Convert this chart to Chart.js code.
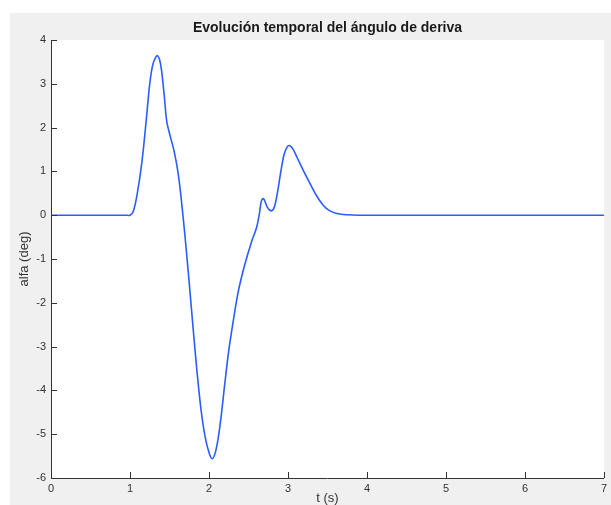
<!DOCTYPE html>
<html>
<head>
<meta charset="utf-8">
<script src="https://cdn.jsdelivr.net/npm/chart.js@4/dist/chart.umd.min.js"></script>
<style>
  html, body { margin: 0; padding: 0; background: #ffffff; }
  #wrap { position: relative; width: 611px; height: 505px; }
</style>
</head>
<body>
<div id="wrap"><canvas id="c" width="611" height="505"></canvas></div>
<script>
// Sideslip angle response over time
const tiempo = [0, 0.5, 0.95, 1.0, 1.04, 1.085, 1.15, 1.21, 1.25, 1.29, 1.33, 1.35, 1.375, 1.40, 1.435, 1.465,
  1.51, 1.56, 1.61, 1.65, 1.70, 1.75, 1.80, 1.85, 1.90, 1.95, 2.00, 2.04, 2.08, 2.12, 2.16, 2.20,
  2.25, 2.30, 2.37, 2.45, 2.54, 2.60, 2.635, 2.66, 2.68, 2.70, 2.74, 2.79, 2.83, 2.87, 2.91, 2.95,
  2.99, 3.02, 3.06, 3.12, 3.20, 3.28, 3.36, 3.44, 3.52, 3.62, 3.75, 3.90, 4.5, 7.0];
const alfa = [0, 0, 0, 0, 0.08, 0.42, 1.2, 2.25, 3.0, 3.45, 3.62, 3.64, 3.55, 3.3, 2.7, 2.15,
  1.8, 1.45, 0.95, 0.35, -0.55, -1.55, -2.6, -3.6, -4.45, -5.05, -5.42, -5.56, -5.42, -5.05, -4.5, -3.85,
  -3.1, -2.5, -1.75, -1.15, -0.6, -0.3, 0.0, 0.3, 0.38, 0.35, 0.18, 0.10, 0.2, 0.55, 1.0, 1.38,
  1.56, 1.59, 1.52, 1.3, 1.0, 0.72, 0.45, 0.24, 0.11, 0.04, 0.01, 0, 0, 0];
const xTicks = [0, 1, 2, 3, 4, 5, 6, 7];
const yTicks = [-6, -5, -4, -3, -2, -1, 0, 1, 2, 3, 4];

const puntos = tiempo.map((t, i) => ({ x: t, y: alfa[i] }));

const FONT = '"Liberation Sans", Arial, Helvetica, sans-serif';
const AXIS_COLOR = '#333333';

// Figure background and white axes box
const fondo = {
  id: 'fondo',
  beforeDraw(chart) {
    const { ctx, chartArea: a } = chart;
    ctx.save();
    ctx.fillStyle = '#f0f0f0';
    ctx.fillRect(10, 13, chart.width - 10, chart.height - 13);
    ctx.fillStyle = '#ffffff';
    ctx.fillRect(a.left, a.top, a.right - a.left, a.bottom - a.top);
    ctx.restore();
  }
};

// Tick marks pointing into the axes box
const marcas = {
  id: 'marcas',
  afterDraw(chart) {
    const { ctx, chartArea: a, scales } = chart;
    const len = 6;
    ctx.save();
    ctx.strokeStyle = AXIS_COLOR;
    ctx.lineWidth = 1;
    ctx.beginPath();
    xTicks.forEach(v => {
      const px = Math.round(scales.x.getPixelForValue(v)) + 0.5;
      ctx.moveTo(px, a.bottom);
      ctx.lineTo(px, a.bottom - len);
    });
    yTicks.forEach(v => {
      const py = Math.round(scales.y.getPixelForValue(v)) + 0.5;
      ctx.moveTo(a.left, py);
      ctx.lineTo(a.left + len, py);
    });
    ctx.stroke();
    ctx.restore();
  }
};

new Chart(document.getElementById('c'), {
  type: 'line',
  data: {
    datasets: [{
      data: puntos,
      borderColor: '#2b5cff',
      borderWidth: 1.6,
      pointRadius: 0,
      fill: false,
      tension: 0.35,
      cubicInterpolationMode: 'default'
    }]
  },
  options: {
    responsive: false,
    animation: false,
    clip: false,
    layout: { padding: { left: 10, right: 7, top: 13, bottom: 0 } },
    plugins: {
      legend: { display: false },
      tooltip: { enabled: false },
      title: {
        display: true,
        text: 'Evolución temporal del ángulo de deriva',
        color: '#1a1a1a',
        font: { family: FONT, size: 14, weight: 'bold', lineHeight: 1.2 },
        padding: { top: 7, bottom: 3.2 },
        fullSize: false
      }
    },
    scales: {
      x: {
        type: 'linear',
        min: 0, max: 7,
        afterBuildTicks(s) { s.ticks = xTicks.map(v => ({ value: v })); },
        afterFit(s) { s.height = 27; },
        grid: { display: false, drawTicks: false },
        border: { display: true, color: AXIS_COLOR, width: 1 },
        ticks: { color: AXIS_COLOR, font: { family: FONT, size: 11 }, padding: 4, maxRotation: 0 },
        title: { display: true, text: 't (s)', color: AXIS_COLOR,
                 font: { family: FONT, size: 13 }, padding: { top: 0, bottom: -1 } }
      },
      y: {
        type: 'linear',
        min: -6, max: 4,
        afterBuildTicks(s) { s.ticks = yTicks.map(v => ({ value: v })); },
        afterFit(s) { s.width = 41; },
        grid: { display: false, drawTicks: false },
        border: { display: true, color: AXIS_COLOR, width: 1 },
        ticks: { color: AXIS_COLOR, font: { family: FONT, size: 11 }, padding: 5 },
        title: { display: true, text: 'alfa (deg)', color: AXIS_COLOR,
                 font: { family: FONT, size: 13 }, padding: { top: 7, bottom: 0 } }
      }
    }
  },
  plugins: [fondo, marcas]
});
</script>
</body>
</html>
